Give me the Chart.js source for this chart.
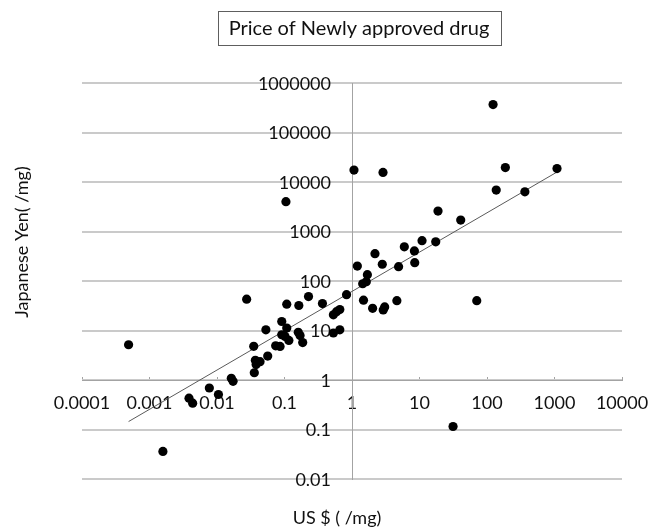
<!DOCTYPE html>
<html>
<head>
<meta charset="utf-8">
<title>Price of Newly approved drug</title>
<script src="https://cdn.jsdelivr.net/npm/chart.js@4/dist/chart.umd.min.js"></script>
<style>
  html, body { margin: 0; padding: 0; background: #ffffff; }
  #wrap { width: 650px; height: 527px; }
</style>
</head>
<body>
<div id="wrap"><canvas id="chart" width="650" height="527"></canvas></div>
<script>
// Price per mg of each newly approved drug: US price (USD) and Japanese price (JPY)
const usdPerMg = [
  0.00049, 0.00158, 0.00385, 0.00436, 0.0077, 0.0105, 0.0163, 0.0173, 0.0275, 0.0357,
  0.035, 0.037, 0.0434, 0.038, 0.0564, 0.053, 0.074, 0.086, 0.091, 0.108,
  0.091, 0.102, 0.116, 0.16, 0.17, 0.186, 0.105, 0.108, 0.163, 0.227,
  0.365, 0.83, 0.53, 0.59, 0.66, 0.53, 0.66, 1.07, 1.2, 1.44,
  1.63, 1.69, 1.48, 2.02, 2.9, 3.05, 4.62, 2.19, 2.81, 4.9,
  5.96, 8.4, 8.5, 10.9, 17.4, 18.8, 40.8, 2.88, 70.5, 31.4,
  123, 187, 137, 364, 1090
];
const yenPerMg = [
  5.15, 0.036, 0.43, 0.34, 0.69, 0.51, 1.08, 0.94, 43, 1.4,
  4.8, 2.5, 2.35, 2.05, 3.05, 10.3, 4.9, 4.76, 15.2, 11.2,
  8.2, 7.6, 6.3, 9.2, 7.9, 5.7, 4000, 34, 32, 48.5,
  35, 53, 20.7, 24, 26.5, 8.9, 10.3, 17400, 200, 88,
  97, 134, 41, 28, 26, 30, 40, 356, 218, 195,
  490, 406, 235, 653, 618, 2590, 1700, 15600, 40, 0.115,
  367000, 19600, 6880, 6340, 18700
];

// Decade ticks on both axes
const xTickValues = [0.0001, 0.001, 0.01, 0.1, 1, 10, 100, 1000, 10000];
const yTickValues = [0.01, 0.1, 1, 10, 100, 1000, 10000, 100000, 1000000];

const chartTitle = 'Price of Newly approved drug';
const xTitle = 'US $ ( /mg)';
const yTitle = 'Japanese Yen( /mg)';

const points = usdPerMg.map((x, i) => ({ x: x, y: yenPerMg[i] }));

// Power trendline: least squares fit of log10(yen) on log10(usd)
function powerFit(xs, ys) {
  const lx = xs.map(Math.log10), ly = ys.map(Math.log10);
  const n = lx.length;
  const mx = lx.reduce((a, b) => a + b, 0) / n;
  const my = ly.reduce((a, b) => a + b, 0) / n;
  let sxy = 0, sxx = 0;
  for (let i = 0; i < n; i++) {
    sxy += (lx[i] - mx) * (ly[i] - my);
    sxx += (lx[i] - mx) * (lx[i] - mx);
  }
  const slope = sxy / sxx;
  const intercept = my - slope * mx;
  return x => Math.pow(10, intercept + slope * Math.log10(x));
}
const trend = powerFit(usdPerMg, yenPerMg);
const xLo = Math.min(...usdPerMg), xHi = Math.max(...usdPerMg);
const trendPoints = [{ x: xLo, y: trend(xLo) }, { x: xHi, y: trend(xHi) }];

const FONT = 'Lato';
const TEXT = '#111111';
const GRID = '#cacaca';
const AXIS = '#a3a3a3';

// Boxed chart title, axis titles and value labels of the vertical axis
const decorations = {
  id: 'decorations',
  beforeDatasetsDraw(chart) {
    const { ctx, scales } = chart;
    const xs = scales.x, ys = scales.y;
    const axisX = xs.getPixelForValue(1);
    ctx.save();
    ctx.font = '18px ' + FONT;
    ctx.fillStyle = TEXT;
    ctx.textAlign = 'right';
    ctx.textBaseline = 'middle';
    ys.ticks.forEach(t => {
      ctx.fillText(String(t.value), axisX - 21, ys.getPixelForValue(t.value) + 1);
    });
    ctx.restore();
  },
  afterDraw(chart) {
    const { ctx } = chart;
    ctx.save();
    // title in a frame
    ctx.font = '20px ' + FONT;
    ctx.fillStyle = TEXT;
    ctx.textAlign = 'center';
    ctx.textBaseline = 'middle';
    const cx = 359, cy = 28.5;
    const w = ctx.measureText(chartTitle).width + 22;
    ctx.strokeStyle = '#5e5e5e';
    ctx.lineWidth = 1;
    ctx.strokeRect(Math.round(cx - w / 2) + 0.5, 11.5, Math.round(w), 34);
    ctx.fillText(chartTitle, cx, cy);
    // axis titles
    ctx.font = '18px ' + FONT;
    ctx.fillText(xTitle, 337, 518);
    ctx.translate(22, 242);
    ctx.rotate(-Math.PI / 2);
    ctx.fillText(yTitle, 0, 0);
    ctx.restore();
  }
};

Chart.defaults.font.family = FONT;

new Chart(document.getElementById('chart'), {
  type: 'scatter',
  data: {
    datasets: [
      {
        data: points,
        backgroundColor: '#000000',
        borderColor: '#000000',
        borderWidth: 0,
        pointRadius: 4.6,
        pointHoverRadius: 4.6,
        order: 1
      },
      {
        type: 'line',
        data: trendPoints,
        borderColor: '#5a5a5a',
        borderWidth: 1,
        pointRadius: 0,
        fill: false,
        order: 2
      }
    ]
  },
  options: {
    responsive: false,
    animation: false,
    events: [],
    layout: { padding: { left: 82, right: 28, top: 83, bottom: 48 } },
    plugins: {
      legend: { display: false },
      tooltip: { enabled: false },
      title: { display: false }
    },
    scales: {
      x: {
        type: 'logarithmic',
        min: 0.0001,
        max: 10000,
        position: { y: 1 },
        afterBuildTicks: s => { s.ticks = xTickValues.map(v => ({ value: v, major: true })); },
        afterFit: s => { s.height = 0; s.paddingLeft = 0; s.paddingRight = 0; },
        grid: { display: true, drawOnChartArea: false, drawTicks: true, tickLength: -4, color: AXIS, tickColor: AXIS },
        border: { display: true, color: AXIS, width: 1 },
        ticks: {
          autoSkip: false,
          maxRotation: 0,
          minRotation: 0,
          padding: 16,
          color: TEXT,
          font: { family: FONT, size: 18 },
          callback: v => String(v)
        }
      },
      y: {
        type: 'logarithmic',
        min: 0.01,
        max: 1000000,
        position: { x: 1 },
        afterBuildTicks: s => { s.ticks = yTickValues.map(v => ({ value: v, major: true })); },
        afterFit: s => { s.width = 0; s.paddingTop = 0; s.paddingBottom = 0; },
        grid: { display: true, drawOnChartArea: true, drawTicks: false, color: GRID, lineWidth: 2 },
        border: { display: true, color: AXIS, width: 1 },
        ticks: { display: false }
      }
    }
  },
  plugins: [decorations]
});
</script>
</body>
</html>
